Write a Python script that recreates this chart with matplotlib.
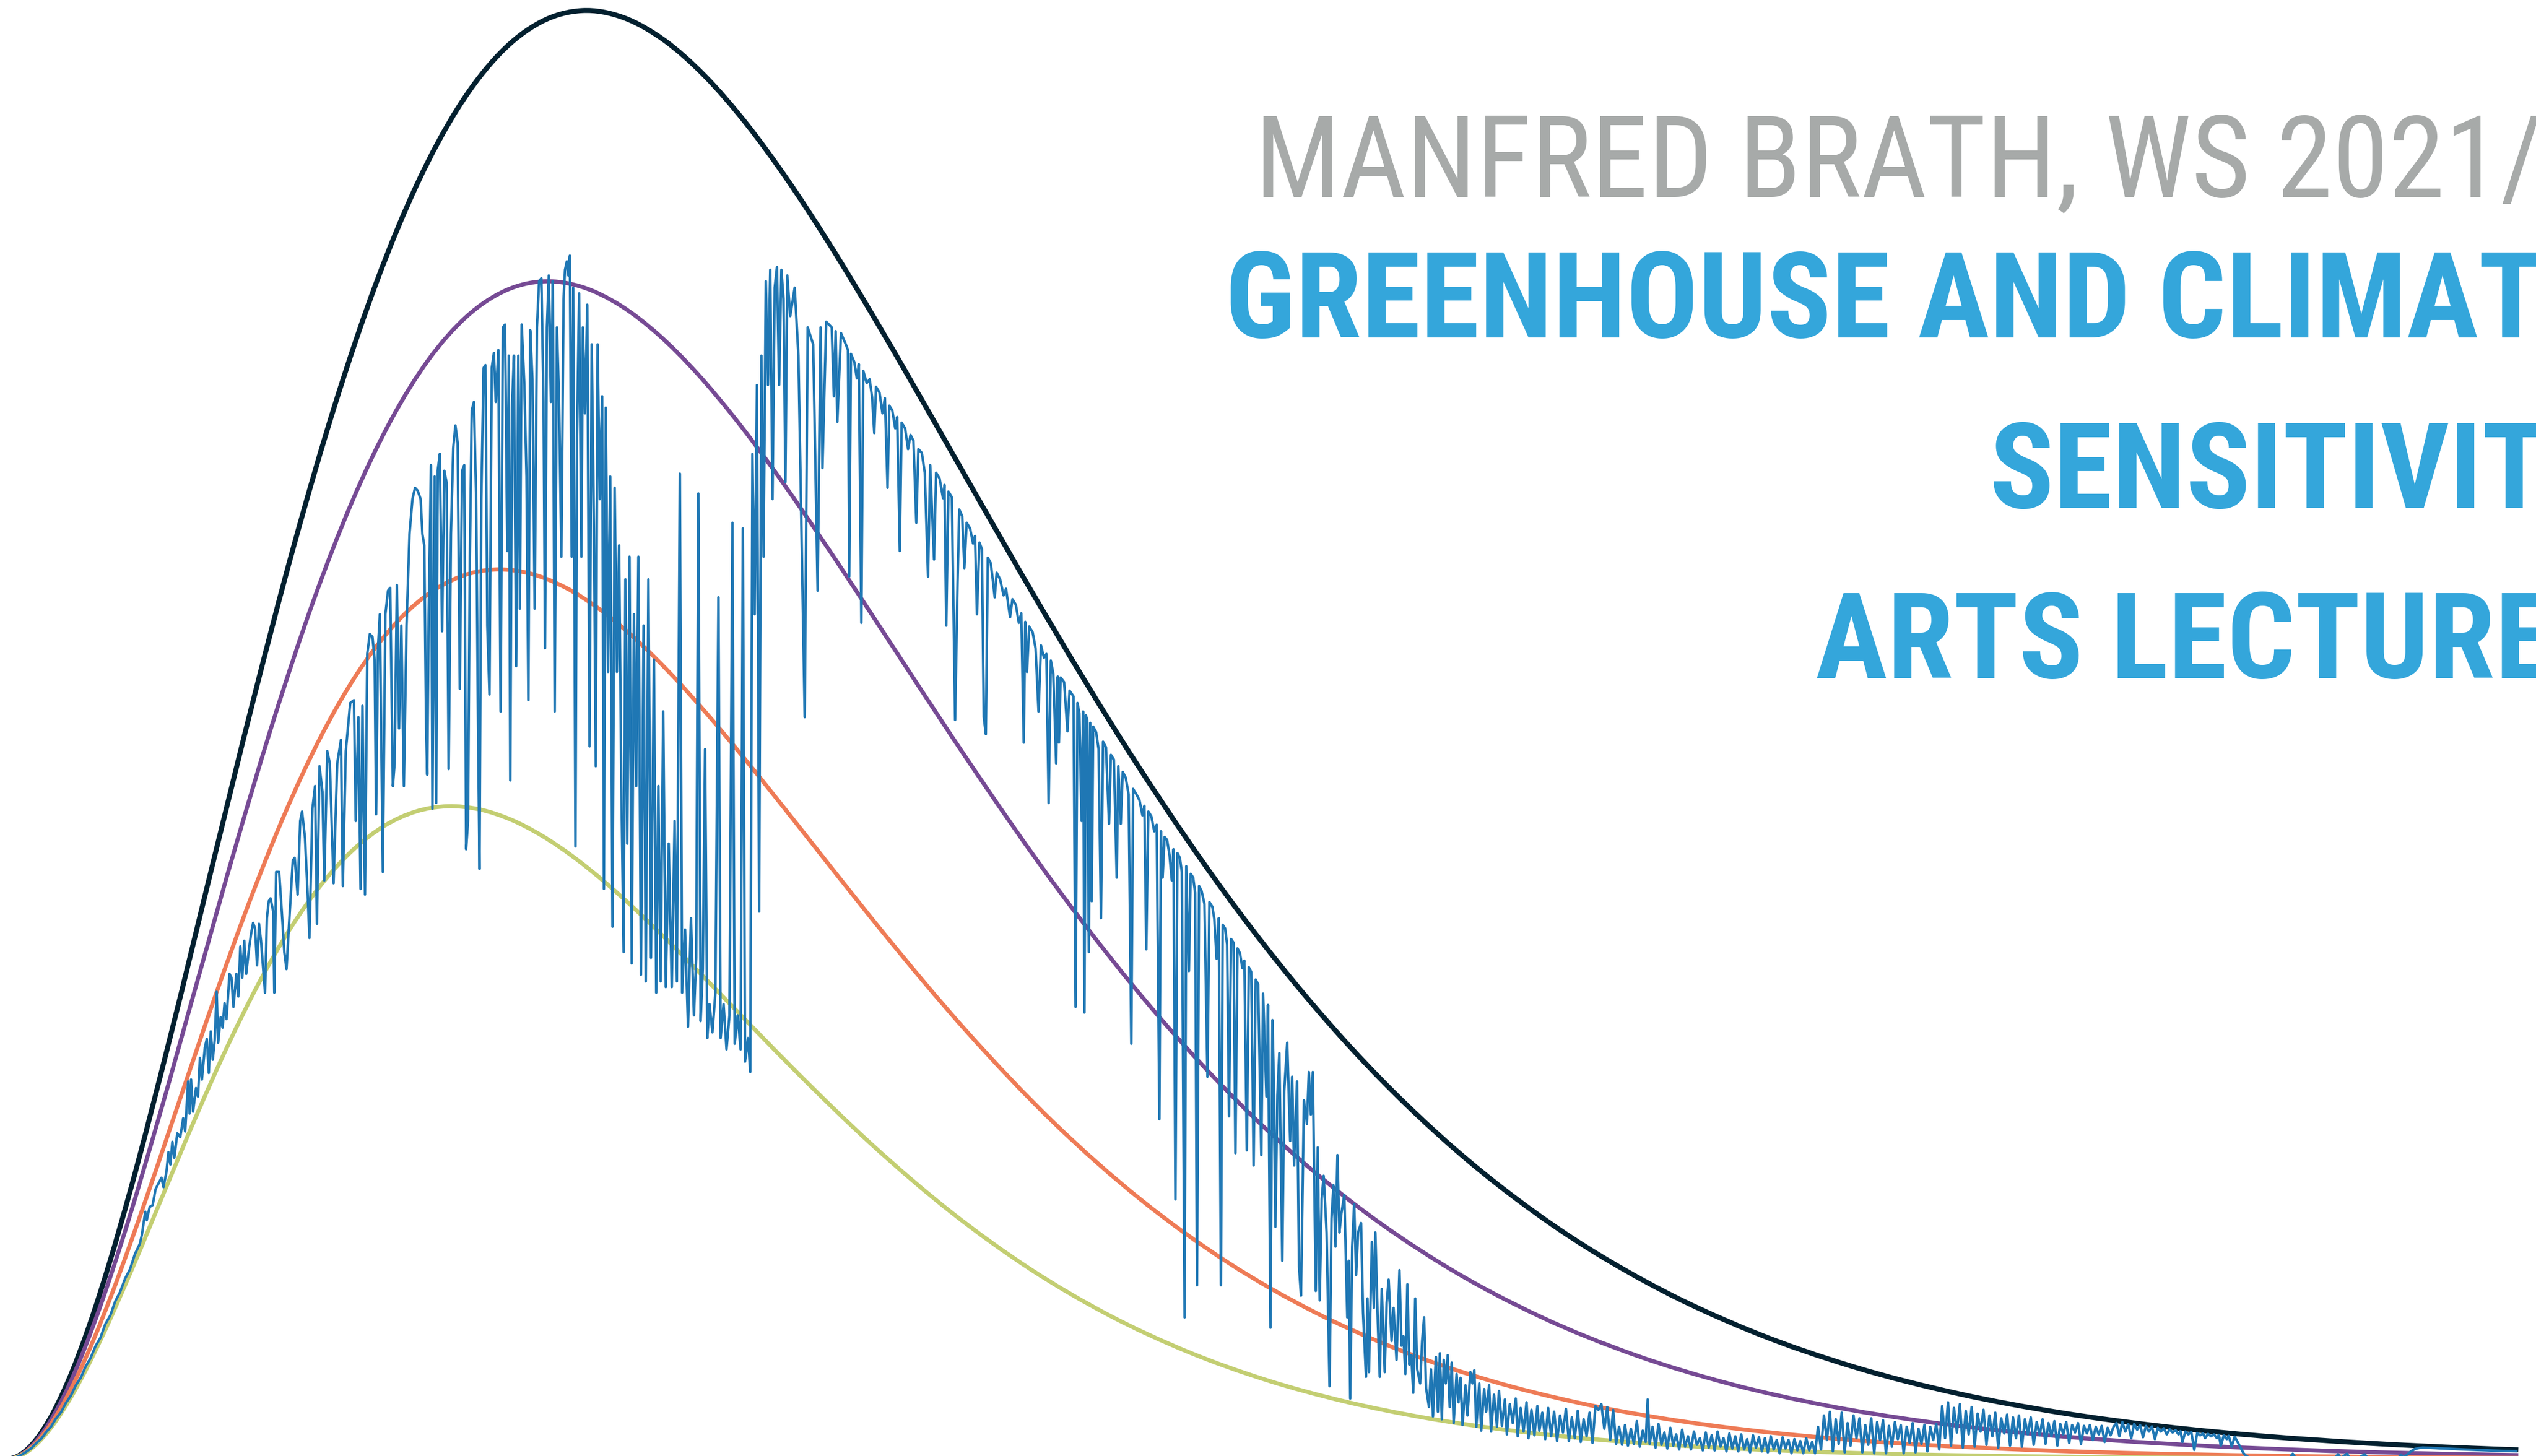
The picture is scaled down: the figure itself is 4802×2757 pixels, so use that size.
import os
import numpy as np
import matplotlib
matplotlib.use("Agg")
import matplotlib.pyplot as plt
from matplotlib import font_manager
from matplotlib.textpath import TextPath
from matplotlib.path import Path
from matplotlib.patches import PathPatch

# Planck curves: wavenumber [cm-1], radiance [mW/(m2 sr cm-1)]
wn_300 = [0, 10.43, 20.85, 31.28, 41.70, 62.55, 83.40, 104.26, 125.11, 166.81, 208.51, 250.21,
          291.91, 333.62, 375.32, 417.02, 458.72, 500.43, 542.13, 583.83, 625.53, 667.23, 708.94,
          750.64, 792.34, 834.04, 886.17, 938.30, 990.42, 1042.55, 1146.81, 1251.06, 1355.32,
          1459.57, 1563.83, 1668.08, 1772.34, 1876.59, 1980.85, 2085.11, 2189.36, 2293.62,
          2397.87, 2502.13, 2550]
rad_300 = [0, 0.263, 1.027, 2.252, 3.901, 8.333, 14.050, 20.805, 28.368, 45.108, 62.837, 80.416,
           96.974, 111.877, 124.700, 135.196, 143.263, 148.915, 152.259, 153.464, 152.746, 150.346,
           146.515, 141.511, 135.572, 128.926, 119.941, 110.529, 100.987, 91.556, 73.715, 57.953,
           44.647, 33.802, 25.207, 18.551, 13.494, 9.715, 6.930, 4.902, 3.442, 2.400, 1.664,
           1.146, 0.965]

wn_280 = [0, 9.73, 19.46, 29.19, 38.92, 58.38, 77.84, 97.30, 116.77, 155.69, 194.61, 233.53,
          272.45, 311.38, 350.30, 389.22, 428.14, 467.06, 505.99, 544.91, 583.83, 622.75, 661.67,
          700.60, 739.52, 778.44, 827.09, 875.74, 924.40, 973.05, 1070.35, 1167.66, 1264.96,
          1362.27, 1459.57, 1556.88, 1654.18, 1751.49, 1848.79, 1946.10, 2043.40, 2140.71,
          2238.01, 2335.32, 2529.93, 2550]
rad_280 = [0, 0.214, 0.835, 1.831, 3.172, 6.775, 11.423, 16.915, 23.064, 36.675, 51.089, 65.382,
           78.843, 90.960, 101.386, 109.919, 116.478, 121.074, 123.792, 124.772, 124.188, 122.237,
           119.122, 115.054, 110.225, 104.822, 97.516, 89.864, 82.106, 74.438, 59.933, 47.118,
           36.300, 27.482, 20.494, 15.083, 10.972, 7.899, 5.634, 3.986, 2.798, 1.952, 1.353,
           0.932, 0.436, 0.403]

wn_255 = [0, 8.86, 17.72, 26.59, 35.45, 53.17, 70.89, 88.62, 106.34, 141.79, 177.23, 212.68,
          248.13, 283.57, 319.02, 354.47, 389.91, 425.36, 460.81, 496.25, 531.70, 567.15, 602.60,
          638.04, 673.49, 708.94, 753.24, 797.55, 841.86, 886.17, 974.79, 1063.40, 1152.02,
          1240.64, 1329.25, 1417.87, 1506.49, 1595.11, 1683.72, 1772.34, 1860.96, 1949.57,
          2038.19, 2126.81, 2304.04, 2481.27, 2550]
rad_255 = [0, 0.162, 0.631, 1.383, 2.396, 5.117, 8.629, 12.777, 17.422, 27.702, 38.590, 49.386,
           59.554, 68.706, 76.582, 83.027, 87.981, 91.453, 93.506, 94.246, 93.805, 92.331, 89.979,
           86.905, 83.258, 79.177, 73.659, 67.878, 62.019, 56.227, 45.271, 35.590, 27.419, 20.759,
           15.480, 11.393, 8.287, 5.966, 4.256, 3.011, 2.114, 1.474, 1.022, 0.704, 0.329, 0.151,
           0.111]

wn_230 = [0, 7.99, 15.99, 23.98, 31.97, 47.96, 63.94, 79.93, 95.91, 127.89, 159.86, 191.83,
          223.80, 255.77, 287.74, 319.72, 351.69, 383.66, 415.63, 447.60, 479.57, 511.55, 543.52,
          575.49, 607.46, 639.43, 679.40, 719.36, 759.33, 799.29, 879.22, 959.15, 1039.08,
          1119.01, 1198.94, 1278.86, 1358.79, 1438.72, 1518.65, 1598.58, 1678.51, 1758.44,
          1838.37, 1918.30, 2078.16, 2238.01, 2397.87, 2550]
rad_230 = [0, 0.119, 0.463, 1.015, 1.758, 3.755, 6.331, 9.375, 12.784, 20.327, 28.316, 36.238,
           43.699, 50.415, 56.194, 60.923, 64.559, 67.106, 68.613, 69.156, 68.832, 67.751, 66.024,
           63.769, 61.093, 58.098, 54.049, 49.807, 45.508, 41.258, 33.218, 26.115, 20.119, 15.232,
           11.359, 8.360, 6.081, 4.378, 3.123, 2.209, 1.551, 1.082, 0.750, 0.517, 0.242, 0.111,
           0.050, 0.023]

# outgoing spectrum, (wavenumber, radiance) read band by band
spec_far_ir = [(0, 0.0), (5, 0.05), (10, 0.20), (15, 0.45), (20, 0.78), (25, 1.15), (30, 1.70),
               (35, 2.15), (40, 2.85), (45, 3.45), (50, 4.30), (55, 4.95), (60, 5.95), (65, 6.70),
               (70, 7.80), (75, 8.60), (80, 9.80), (85, 10.70), (90, 11.95), (95, 12.85),
               (100, 14.30), (105, 15.20), (110, 16.70), (115, 17.70), (120, 19.10), (125, 20.10),
               (130, 21.70), (135, 22.80)]

spec_h2o_rot = [(137, 23.7), (140.5, 26.2), (142, 25.3), (145, 26.7), (148, 26.9), (151, 28.6),
                (154, 29.2), (157, 29.8), (159, 28.8), (162, 30.4), (164, 32.5), (166, 31.2),
                (168, 33.6), (170, 31.9), (173, 34.5), (176, 34.1), (179, 36.1), (181, 34.7),
                (184, 40.0), (185.5, 36.6), (187, 40.2), (189, 36.8), (192, 39.3), (194, 38.4),
                (196, 42.5), (198, 40.2), (201, 43.6), (203, 44.5), (205, 40.9), (207, 45.3),
                (209, 42.3), (211, 44.4), (213, 49.5), (214.5, 44.1), (217, 46.8), (219, 45.7),
                (221, 48.3), (223, 46.6), (226, 51.4), (228, 51.0), (230, 47.9), (233, 51.4),
                (235, 49.0), (237, 54.3), (239, 51.0), (241, 54.9), (243, 51.4), (246, 54.2),
                (248, 55.7), (250, 56.8), (252, 56.2), (254, 52.3), (256, 56.7), (258, 54.9),
                (262.1, 49.4), (264.0, 57.3), (265.9, 59.1), (267.7, 59.4), (270.4, 58.0),
                (271.5, 49.4), (273.4, 62.2), (276.4, 62.2), (279.0, 58.2), (281.7, 53.7),
                (283.9, 51.9), (286.5, 56.7), (290.3, 63.4), (292.2, 63.7), (295.2, 59.8),
                (297.8, 67.6), (299.7, 68.6), (302.7, 65.8), (305.4, 59.8), (307.2, 55.2),
                (310.2, 68.9), (312.9, 71.3), (314.8, 56.7), (317.4, 73.4), (320.4, 70.7),
                (322.3, 61.3), (325.3, 75.0), (327.9, 73.7), (331.7, 61.0), (335.4, 73.7),
                (339.2, 76.2), (341.1, 60.7), (344.1, 75.0), (348.6, 80.1), (352.4, 80.4),
                (354.2, 67.6), (356.9, 78.6), (359.1, 60.4), (361.0, 79.8), (363.6, 59.8),
                (365.9, 85.3), (368.5, 87.4), (371.2, 87.1), (373.4, 84.7), (374.9, 68.3),
                (376.8, 85.9), (378.7, 89.5), (381.7, 62.2), (384.3, 89.5), (387.0, 92.0),
                (389.2, 92.3), (391.9, 71.3), (393.7, 73.7), (396.0, 92.6), (398.2, 77.4),
                (400.5, 88.3), (403.1, 71.3), (405.8, 88.3), (408.8, 98.0), (411.8, 101.7),
                (414.4, 102.9), (417.1, 102.6), (420.1, 101.7), (421.9, 98.0), (423.8, 96.8),
                (425.7, 77.4), (426.8, 72.5), (428.3, 89.5), (430.6, 105.3), (432.1, 68.9),
                (434.4, 104.1), (435.9, 69.5), (437.4, 104.7), (439.6, 106.5), (441.9, 87.7),
                (444.1, 104.7), (446.4, 103.5), (448.6, 73.1), (450.9, 98.0), (453.2, 107.1),
                (455.4, 109.5), (457.7, 107.7), (459.9, 81.6), (462.2, 104.7), (464.4, 105.3),
                (466.3, 64.6), (468.2, 67.6), (470.1, 95.6), (472.0, 111.1), (474.2, 112.0),
                (476.5, 101.7), (478.4, 77.4), (479.9, 62.5), (481.7, 101.7), (484.0, 115.6),
                (485.9, 115.9), (487.8, 88.3), (490.0, 81.0), (492.3, 115.6), (494.5, 117.2),
                (496.4, 112.0), (499.0, 117.5), (501.3, 79.2), (503.6, 119.9), (505.8, 120.2),
                (508.1, 96.2), (509.6, 116.9), (511.1, 71.9), (512.9, 111.4), (514.8, 116.9),
                (517.1, 84.0), (519.3, 116.9), (520.9, 90.1), (522.7, 120.2), (525.4, 113.8),
                (527.6, 104.1), (529.5, 80.4), (531.4, 119.6), (533.6, 114.4), (535.9, 90.1),
                (538.2, 119.9), (540.4, 124.8), (542.7, 125.1), (544.9, 112.0), (546.4, 85.9),
                (548.3, 119.9), (550.2, 125.4), (552.4, 112.0), (554.3, 124.8), (556.2, 79.2),
                (558.5, 119.9), (560.7, 112.0), (563.0, 95.6), (565.2, 122.9), (566.7, 126.0),
                (568.6, 126.9), (570.1, 125.4), (571.6, 127.5), (573.5, 95.6), (575.0, 124.1),
                (577.3, 64.9), (578.8, 107.7), (581.0, 123.5), (583.3, 95.6), (584.8, 119.9),
                (587.0, 110.8), (589.3, 122.3), (591.6, 75.5), (593.8, 118.1), (596.1, 98.6),
                (597.9, 73.4), (599.8, 118.1), (602.1, 101.7), (604.4, 112.6), (606.2, 60.4),
                (608.1, 111.4), (610.4, 83.4), (612.6, 104.1), (614.9, 56.4)]

spec_co2_15um = [(617.1, 102.9), (619.4, 83.4), (621.6, 96.8), (623.9, 71.3), (626.2, 53.7),
                 (628.0, 93.2), (629.9, 65.2), (632.2, 95.6), (634.4, 52.5), (636.7, 89.5),
                 (639.0, 71.3), (641.2, 95.6), (643.8, 51.3), (646.5, 88.3), (648.7, 50.6),
                 (651.4, 93.2), (654.0, 53.1), (657.0, 84.7), (659.3, 49.4), (661.5, 71.3),
                 (663.8, 50.6), (666.4, 79.2), (669.0, 50.0), (672.0, 65.2), (675.1, 50.0),
                 (678.0, 67.6), (680.3, 50.6), (683.3, 104.4), (685.6, 49.4), (688.6, 56.1),
                 (691.6, 45.8), (694.6, 57.3), (697.6, 47.0), (699.9, 53.1), (702.1, 102.3),
                 (704.4, 46.4), (706.6, 51.9), (708.9, 75.2), (711.2, 44.6), (713.4, 48.2),
                 (716.4, 45.2), (719.4, 49.4), (722.5, 91.3), (724.7, 44.6), (727.7, 48.2),
                 (730.7, 43.4), (733.7, 47.0), (736.7, 99.2), (739.0, 44.0), (742.0, 47.0),
                 (745.0, 43.4), (747.3, 98.6), (749.5, 42.1), (752.5, 44.6), (754.8, 41.0),
                 (757.0, 106.5), (759.3, 89.5), (761.6, 113.8), (763.8, 58.0), (766.1, 116.9),
                 (768.3, 95.6), (770.6, 124.8), (772.8, 113.8), (775.1, 126.0), (777.4, 101.7),
                 (779.6, 124.1), (781.9, 126.3), (784.1, 113.8), (786.4, 126.0), (788.6, 122.9),
                 (790.5, 103.5), (792.4, 125.4), (795.4, 121.1), (799.9, 124.1), (803.7, 116.9),
                 (810.1, 78.6), (813.1, 119.9), (818.7, 118.1), (823.2, 92.0), (826.2, 119.9),
                 (828.1, 105.0), (831.9, 120.5), (837.5, 119.9), (839.7, 112.6), (841.5, 119.5),
                 (843.2, 109.9), (846.9, 119.3), (851.8, 118.1)]

spec_window = [(854.0, 117.5), (855.3, 93.5), (857.0, 117.1), (860.5, 116.2), (863.0, 114.5),
               (865.0, 116.0), (867.6, 88.6), (869.5, 115.3), (873.0, 114.0), (876.0, 114.4),
               (878.5, 112.5), (880.7, 108.7), (882.5, 113.6), (886.0, 113.0), (889.0, 110.8),
               (891.5, 112.4), (894.2, 102.9), (896.0, 111.6), (899.0, 111.1), (902.0, 109.2),
               (904.0, 110.4), (906.6, 96.2), (908.5, 109.8), (912.0, 109.2), (915.0, 107.0),
               (917.5, 108.5), (920.5, 107.9), (923.4, 99.2), (925.5, 107.0), (929.0, 106.6),
               (932.0, 104.5), (935.3, 93.5), (937.5, 105.3), (941.4, 95.3), (943.5, 104.5),
               (947.0, 103.9), (950.5, 101.8), (952.0, 103.2), (953.8, 88.3), (956.0, 102.5),
               (959.5, 101.9), (962.8, 78.3), (965.3, 92.9), (967.0, 100.6), (970.0, 99.9),
               (972.2, 94.4), (974.5, 99.2), (978.0, 98.6), (981.0, 97.0), (983.0, 97.8),
               (985.0, 89.5), (987.5, 97.1), (990.0, 96.4), (991.9, 78.6), (994.0, 76.8),
               (996.0, 95.5), (999.0, 94.9), (1001.0, 93.2), (1003.0, 91.3), (1005.0, 93.9),
               (1008.5, 93.2), (1012.0, 91.5), (1014.5, 92.2), (1018.6, 89.2), (1021.0, 91.1),
               (1024.5, 90.5), (1027.5, 88.6), (1030.0, 89.6), (1032.5, 75.9), (1034.0, 88.7),
               (1035.8, 83.4), (1038.0, 88.2), (1041.5, 87.6), (1044.5, 85.9), (1047.5, 79.2),
               (1050.0, 86.2), (1053.0, 84.9), (1055.5, 85.3), (1057.8, 69.5), (1060.0, 84.6),
               (1062.5, 83.2), (1065.4, 73.7), (1067.0, 82.9), (1068.2, 75.9), (1070.0, 82.8),
               (1073.5, 82.3), (1076.9, 77.1), (1079.0, 81.4), (1083.0, 80.8), (1085.1, 47.9),
               (1087.0, 80.1), (1089.0, 79.0), (1091.2, 67.6), (1092.8, 79.2), (1094.1, 47.3),
               (1095.5, 78.8), (1097.0, 78.3), (1098.6, 53.7), (1100.0, 78.0), (1101.5, 59.1),
               (1103.0, 77.6), (1106.0, 77.0), (1108.5, 75.2), (1110.9, 57.3), (1113.0, 76.0),
               (1116.0, 75.4), (1119.1, 67.3), (1121.0, 74.6), (1124.0, 74.1), (1126.9, 61.6),
               (1128.5, 73.4), (1131.0, 67.3), (1133.0, 72.8), (1136.0, 72.2), (1139.0, 70.4),
               (1141.7, 44.0), (1143.5, 71.0), (1147.0, 70.4), (1150.0, 69.8), (1153.0, 68.2),
               (1155.0, 69.2), (1156.9, 54.0), (1159.0, 68.6), (1162.0, 68.1), (1165.0, 66.5),
               (1167.5, 67.2), (1170.2, 36.0), (1171.8, 66.5), (1173.5, 61.6), (1175.5, 65.9),
               (1178.0, 65.6), (1180.5, 64.0), (1182.8, 61.3), (1184.5, 64.6), (1186.5, 27.5),
               (1188.5, 64.2), (1191.0, 63.7), (1193.0, 62.2), (1195.8, 15.0), (1197.5, 62.8),
               (1200.2, 51.7), (1202.0, 62.0), (1204.5, 61.6), (1206.5, 60.0), (1208.4, 18.4),
               (1210.5, 60.7), (1213.0, 60.2), (1216.0, 58.8), (1219.0, 40.5), (1221.0, 59.0),
               (1224.0, 58.5), (1226.0, 57.2), (1228.3, 53.0), (1230.5, 57.3), (1232.7, 18.4),
               (1234.5, 56.6), (1237.0, 56.2), (1239.0, 54.5), (1240.9, 36.3), (1243.0, 55.1),
               (1245.5, 54.7), (1247.4, 32.4), (1249.5, 54.1), (1252.0, 53.6), (1254.5, 52.0),
               (1256.5, 52.8), (1259.0, 32.7), (1261.0, 52.1), (1263.5, 51.6), (1265.9, 31.1),
               (1268.0, 50.8), (1270.5, 50.3), (1273.7, 32.2), (1275.5, 49.3), (1278.9, 38.4),
               (1280.5, 48.1), (1283.0, 13.9), (1285.0, 46.5)]

spec_h2o_vib = [(1286, 42.0), (1288, 24.6), (1290, 38.5), (1292, 43.0), (1295, 21.0), (1297, 39.0),
                (1300, 44.1), (1303, 33.7), (1305, 40.5), (1307, 31.1), (1310, 40.0), (1312, 20.4),
                (1314, 17.3), (1317, 38.0), (1320, 35.5), (1322, 41.0), (1324, 36.5), (1326, 41.0),
                (1329, 17.8), (1331, 33.0), (1333, 16.8), (1335, 27.5), (1337, 30.0), (1340, 24.0),
                (1343, 7.7), (1345, 25.5), (1347, 29.0), (1349, 22.5), (1351, 32.2), (1353, 24.0),
                (1355, 26.0), (1358, 28.0), (1361, 15.0), (1362.5, 21.0), (1364, 6.4), (1366, 22.5),
                (1368, 27.0), (1370, 19.5), (1372, 24.0), (1375, 25.0), (1377, 15.5), (1380, 8.7),
                (1381.5, 17.0), (1383, 9.2), (1386, 23.0), (1388, 16.0), (1389.5, 24.0),
                (1392, 14.5), (1394, 8.7), (1396, 18.0), (1399, 9.2), (1401, 16.5), (1403, 19.0),
                (1406, 12.5), (1408, 16.0), (1411, 10.5), (1414, 20.0), (1416, 12.0), (1418, 13.0),
                (1420, 9.0), (1422, 18.5), (1424, 10.0), (1426, 11.0), (1428, 7.0), (1430, 17.0),
                (1432, 9.5), (1435, 8.0), (1437, 12.5), (1439, 15.0), (1441, 7.5), (1444, 5.5),
                (1446, 9.5), (1448, 4.5), (1451, 10.8), (1453, 5.0), (1455, 11.2), (1457, 4.2),
                (1459, 10.5), (1461, 8.0), (1463, 11.0), (1465, 5.5), (1467, 10.2), (1469, 3.8),
                (1472, 9.0), (1474, 6.0), (1476, 8.6), (1478, 3.6), (1481, 7.8), (1483, 4.6),
                (1486, 9.2), (1488, 8.0), (1490, 9.4), (1492, 3.4), (1495, 8.0), (1497, 3.0),
                (1500, 7.4), (1502, 5.0), (1505, 7.8), (1507, 2.9), (1510, 6.8), (1513, 3.4),
                (1515, 7.2), (1518, 3.5), (1521, 6.3), (1523, 2.6), (1526, 5.8), (1529, 3.8),
                (1532, 6.4), (1534, 2.4), (1537, 5.4), (1540, 2.9), (1543, 6.0), (1545, 2.2),
                (1548, 5.2), (1551, 2.5), (1554, 5.6), (1556, 3.0), (1559, 4.9), (1562, 2.1),
                (1565, 5.4), (1568, 2.4), (1571, 5.0), (1574, 1.9), (1577, 4.6), (1580, 2.8),
                (1583, 5.3), (1586, 1.9), (1589, 4.4), (1592, 2.2), (1595, 5.1), (1598, 1.8),
                (1601, 4.2), (1604, 2.4), (1607, 4.9), (1610, 1.7), (1613, 5.6), (1616, 5.2),
                (1619, 5.8), (1622, 3.2), (1625, 5.5), (1628, 2.0), (1631, 5.2), (1634, 1.6),
                (1637, 3.4), (1640, 1.5)]

spec_h2o_tail = [(1643, 3.6), (1646, 1.4), (1649, 3.2), (1652, 1.6), (1655, 4.0), (1658, 1.3),
                 (1661, 3.0), (1664, 1.8), (1666, 6.3), (1668, 1.6), (1671, 3.4), (1674, 1.2),
                 (1677, 3.7), (1680, 1.5), (1683, 2.8), (1686, 1.1), (1689, 3.3), (1692, 1.4),
                 (1695, 2.6), (1698, 1.0), (1701, 3.1), (1704, 1.3), (1707, 2.4), (1710, 1.0),
                 (1713, 2.9), (1716, 1.5), (1719, 2.2), (1722, 0.9), (1725, 2.8), (1728, 1.2),
                 (1731, 2.5), (1734, 0.9), (1737, 2.9), (1740, 1.3), (1743, 2.2), (1746, 0.8),
                 (1749, 2.7), (1752, 1.1), (1755, 2.4), (1758, 0.8), (1761, 2.6), (1764, 1.0),
                 (1767, 2.1), (1770, 0.7), (1773, 2.5), (1776, 1.2), (1779, 2.3), (1782, 0.8),
                 (1785, 2.2), (1788, 0.7), (1791, 2.4), (1794, 1.0), (1797, 2.0), (1800, 0.6),
                 (1803, 2.3), (1806, 1.1), (1809, 2.0), (1812, 0.6), (1815, 2.1), (1818, 0.9),
                 (1821, 1.9), (1824, 0.6), (1827, 2.2), (1830, 0.9), (1833, 1.8), (1836, 0.6),
                 (1839, 3.4), (1842, 1.0), (1845, 4.6), (1848, 2.0), (1851, 5.0), (1854, 0.8),
                 (1857, 4.2), (1860, 1.6), (1863, 4.9), (1866, 0.7), (1869, 3.8), (1872, 1.4),
                 (1875, 4.6), (1878, 2.2), (1881, 4.3), (1884, 0.7), (1887, 3.6), (1890, 1.5),
                 (1893, 4.3), (1896, 0.6), (1899, 3.9), (1902, 2.0), (1905, 4.1), (1908, 0.6),
                 (1911, 3.5), (1914, 1.3), (1917, 3.9), (1920, 2.1), (1923, 3.6), (1926, 0.6),
                 (1929, 3.4), (1932, 1.7), (1935, 3.8), (1938, 0.7), (1941, 3.2), (1944, 1.6),
                 (1947, 3.6), (1950, 0.8), (1953, 3.4), (1956, 2.0), (1959, 3.7), (1962, 1.0)]

spec_short_window = [(1965, 5.6), (1968, 2.2), (1971, 6.0), (1974, 1.4), (1977, 5.4), (1980, 2.8),
                     (1983, 5.8), (1986, 1.2), (1989, 5.1), (1992, 2.6), (1995, 5.5), (1998, 1.3),
                     (2001, 4.8), (2004, 2.9), (2007, 5.2), (2010, 1.5), (2013, 4.6), (2016, 2.4),
                     (2019, 4.9), (2022, 1.2), (2025, 4.3), (2028, 2.7), (2031, 4.7), (2034, 1.4),
                     (2037, 4.4), (2040, 2.2), (2043, 4.6), (2046, 1.3), (2049, 4.2), (2052, 2.6),
                     (2055, 4.4), (2058, 1.5), (2061, 3.9), (2064, 2.5), (2067, 4.2), (2070, 1.6),
                     (2073, 3.8), (2076, 2.4), (2079, 4.0), (2082, 1.4), (2085, 3.7), (2088, 2.6),
                     (2091, 3.9), (2094, 1.7), (2097, 3.6), (2100, 2.8), (2103, 3.8), (2106, 1.6),
                     (2109, 3.5), (2112, 2.7), (2115, 3.6), (2118, 2.0), (2121, 3.4), (2124, 2.6),
                     (2127, 3.5), (2130, 1.8), (2133, 3.3), (2136, 2.5), (2139, 3.4), (2142, 3.8),
                     (2145, 2.4), (2148, 3.9), (2151, 2.9), (2154, 3.7), (2157, 2.2), (2160, 3.7),
                     (2163, 3.1), (2166, 3.6), (2169, 2.3), (2172, 3.5), (2175, 2.9), (2178, 3.45),
                     (2181, 2.1), (2184, 3.3), (2187, 2.9), (2190, 3.25), (2193, 2.6), (2196, 3.15),
                     (2199, 2.8), (2202, 3.05), (2205, 2.6), (2207, 2.95), (2209, 1.8), (2212, 2.9),
                     (2215, 2.6), (2218, 2.85), (2221, 0.96), (2224, 2.75), (2227, 2.5), (2230, 2.7),
                     (2232, 2.2), (2235, 2.65), (2238, 2.4), (2241, 2.6), (2244, 2.2), (2246, 2.55),
                     (2248, 1.4), (2251, 2.5), (2254, 2.1), (2256, 2.45), (2259, 1.3), (2262, 2.35),
                     (2265, 1.8), (2268, 1.2), (2271, 0.6), (2274, 0.3), (2277, 0.15)]

spec_co2_4um = [(2282, 0.10), (2290, 0.12), (2300, 0.08), (2310, 0.10), (2318, 0.12), (2321, 0.55),
                (2324, 0.10), (2335, 0.08), (2345, 0.10), (2355, 0.08), (2364, 0.10), (2367, 0.50),
                (2370, 0.10), (2376, 0.55), (2379, 0.10), (2388, 0.10), (2394, 0.50), (2397, 0.12),
                (2408, 0.10), (2418, 0.12), (2428, 0.10), (2431, 0.45), (2433, 0.20), (2437, 0.45),
                (2441, 0.80), (2445, 1.05), (2449, 1.15), (2453, 1.20), (2458, 1.18), (2466, 1.14),
                (2475, 1.10), (2485, 1.05), (2495, 1.00), (2505, 0.96), (2515, 0.92), (2525, 0.88),
                (2535, 0.85), (2548, 0.82)]

subtitle = "MANFRED BRATH, WS 2021/22"
title_lines = ["GREENHOUSE AND CLIMATE", "SENSITIVITY", "ARTS LECTURE"]

W, H, DPI = 4802, 2757, 100


def find_font(file_names, family, weight):
	# look for a font file by name, else let matplotlib pick from the family list
	files = {}
	for f in font_manager.fontManager.ttflist:
		key = os.path.splitext(os.path.basename(f.fname))[0].lower().replace("-", "")
		files.setdefault(key, f.fname)
	for name in file_names:
		key = name.lower().replace("-", "")
		if key in files:
			return font_manager.FontProperties(fname=files[key])
	return font_manager.FontProperties(family=family, weight=weight)


def fit_width(prop, text, width_px):
	# font size so that the ink of `text` is width_px wide; returns font and cap height (px)
	w100 = TextPath((0, 0), text, size=100, prop=prop).get_extents().width
	h100 = TextPath((0, 0), "H", size=100, prop=prop).get_extents().height
	size = width_px * 72.0 / DPI * 100.0 / w100
	p = prop.copy()
	p.set_size(size)
	return p, h100 * size / 100.0 * DPI / 72.0


def smooth_path(x, y):
	# cubic segments through the read points (tangents from neighbouring points)
	x = np.asarray(x, float)
	y = np.asarray(y, float)
	h = np.diff(x)
	d = np.diff(y) / h
	m = np.empty_like(y)
	m[1:-1] = (h[1:] * d[:-1] + h[:-1] * d[1:]) / (h[:-1] + h[1:])
	m[0] = 2 * d[0] - m[1]
	m[-1] = 2 * d[-1] - m[-2]
	verts = [(x[0], y[0])]
	codes = [Path.MOVETO]
	for i in range(len(h)):
		verts += [(x[i] + h[i] / 3, y[i] + m[i] * h[i] / 3),
		          (x[i + 1] - h[i] / 3, y[i + 1] - m[i + 1] * h[i] / 3),
		          (x[i + 1], y[i + 1])]
		codes += [Path.CURVE4] * 3
	return Path(verts, codes)


spectrum = (spec_far_ir + spec_h2o_rot + spec_co2_15um + spec_window + spec_h2o_vib
            + spec_h2o_tail + spec_short_window + spec_co2_4um)
wn_spec, rad_spec = np.array(spectrum).T

fig = plt.figure(figsize=(W / DPI, H / DPI), dpi=DPI)
fig.patch.set_facecolor("white")
ax = fig.add_axes([0, 0, 1, 1])

curves = [(wn_300, rad_300, "#03202f", 6.8),
          (wn_280, rad_280, "#764a94", 5.6),
          (wn_255, rad_255, "#ee7b56", 5.6),
          (wn_230, rad_230, "#c3ce72", 5.6)]
for wn, rad, col, lw in curves:
	ax.add_patch(PathPatch(smooth_path(wn, rad), facecolor="none", edgecolor=col, lw=lw,
	                       capstyle="butt", joinstyle="round", zorder=2))

ax.plot(wn_spec, rad_spec, color="#1f77b4", lw=3.4, zorder=3)

ax.set_xlim(-7, 2568)
ax.set_ylim(0.31, 154.59)
ax.axis("off")

sub_font = find_font(["RobotoCondensed-Regular", "Roboto-Regular", "NotoSans-Regular",
                      "LiberationSans-Regular"], ["Roboto", "DejaVu Sans"], "normal")
title_font = find_font(["NotoSans-ExtraCondensedBold", "NotoSans-CondensedBold",
                        "RobotoCondensed-Bold", "LiberationSansNarrow-Bold",
                        "DejaVuSansCondensed-Bold", "NotoSans-SemiCondensedBold", "Roboto-Bold"],
                       ["Roboto", "DejaVu Sans"], "bold")

# sizes follow the slide: same letters run to the right edge as on the original
sub_font, sub_cap = fit_width(sub_font, "MANFRED BRATH, WS 2021/", 2415)
title_font, title_cap = fit_width(title_font, "GREENHOUSE AND CLIMA", 2360)

fig.text(2376 / W, 1 - (296 + sub_cap / 2) / H, subtitle, fontproperties=sub_font,
         color="#a7aaa9", ha="left", va="baseline")
# left edge and vertical middle of each title line on the slide
for line, x0, ymid in zip(title_lines, [2320, 3767, 3438], [558, 881, 1203]):
	fig.text(x0 / W, 1 - (ymid + title_cap / 2) / H, line, fontproperties=title_font,
	         color="#34a6db", ha="left", va="baseline")

fig.savefig("out.png", dpi=DPI, facecolor="white")
